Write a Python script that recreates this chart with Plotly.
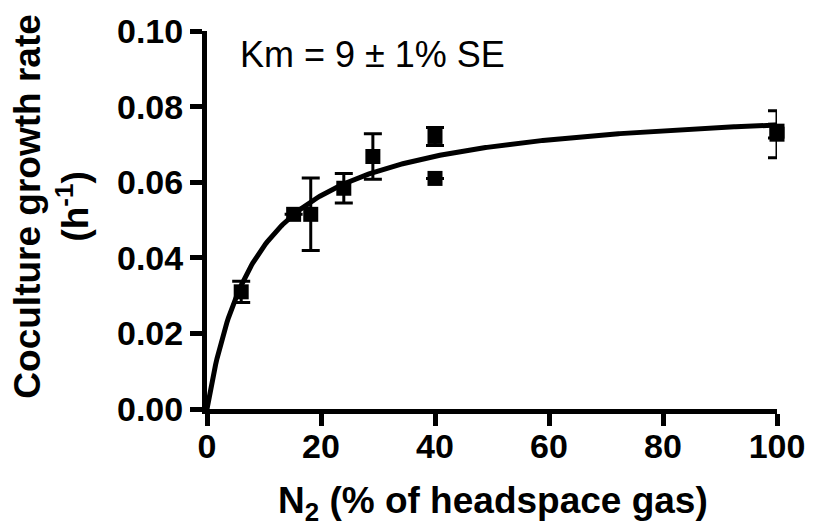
import numpy as np
import plotly.graph_objects as go

# Data
n2_pct = [6, 15.2, 18.2, 24, 29.1, 40, 40, 100, 100]
growth = [0.031, 0.0515, 0.0515, 0.0584, 0.0668, 0.0721, 0.0610, 0.0727, 0.0735]
growth_se = [0.0028, 0.0, 0.0096, 0.0039, 0.006, 0.0024, 0.0, 0.0062, 0.0018]

# Michaelis-Menten fit parameters
km = 9.0
vmax = 0.0819

x_tick_vals = [0, 20, 40, 60, 80, 100]
y_tick_vals = [0.00, 0.02, 0.04, 0.06, 0.08, 0.10]
y_tick_text = ["0.00", "0.02", "0.04", "0.06", "0.08", "0.10"]

fit_x = np.linspace(0, 100, 400)
fit_y = vmax * fit_x / (km + fit_x)

FONT = "Liberation Sans, Arial, sans-serif"

fig = go.Figure()
fig.add_trace(go.Scatter(
    x=fit_x, y=fit_y, mode="lines",
    line=dict(color="black", width=5),
    hoverinfo="skip", cliponaxis=False, showlegend=False,
))
fig.add_trace(go.Scatter(
    x=n2_pct, y=growth, mode="markers",
    marker=dict(symbol="square", size=15, color="black"),
    error_y=dict(type="data", array=growth_se, visible=True,
                 color="black", thickness=3, width=9),
    cliponaxis=False, showlegend=False,
))

L, R, T, B = 206.5, 35.4, 24, 120
W = 817 - L - R
H = 529 - T - B

def px_x(p):
    return (p - L) / W

def px_y(p):
    return (529 - B - p) / H

fig.update_layout(
    width=817, height=529,
    margin=dict(l=L, r=R, t=T, b=B),
    plot_bgcolor="white", paper_bgcolor="white",
    font=dict(family=FONT, color="black"),
    xaxis=dict(
        range=[0, 100], tickvals=x_tick_vals,
        showline=True, linecolor="black", linewidth=5,
        ticks="outside", ticklen=12, tickwidth=5, tickcolor="black",
        ticklabelstandoff=-9,
        showgrid=False, zeroline=False,
        tickfont=dict(family=FONT, size=34, color="black", weight="bold"),
    ),
    yaxis=dict(
        range=[0, 0.1], tickvals=y_tick_vals, ticktext=y_tick_text,
        showline=True, linecolor="black", linewidth=5,
        ticks="outside", ticklen=12, tickwidth=5, tickcolor="black",
        showgrid=False, zeroline=False,
        tickfont=dict(family=FONT, size=34, color="black", weight="bold"),
    ),
    annotations=[
        dict(text="Km = 9 ± 1% SE", xref="paper", yref="paper",
             x=px_x(238), y=px_y(48),
             xanchor="left", yanchor="middle", showarrow=False,
             font=dict(family=FONT, size=36, color="black")),
        dict(text="<b>Coculture growth rate</b><br><b>(h<sup>-1</sup>)</b>",
             xref="paper", yref="paper",
             x=px_x(50), y=px_y(203),
             xanchor="center", yanchor="middle", textangle=-90, showarrow=False,
             font=dict(family=FONT, size=37, color="black")),
        dict(text="<b>N<sub>2</sub> (% of headspace gas)</b>",
             xref="paper", yref="paper",
             x=px_x(495.5), y=px_y(505),
             xanchor="center", yanchor="middle", showarrow=False,
             font=dict(family=FONT, size=37, color="black")),
    ],
)

fig.write_html("out.html")
